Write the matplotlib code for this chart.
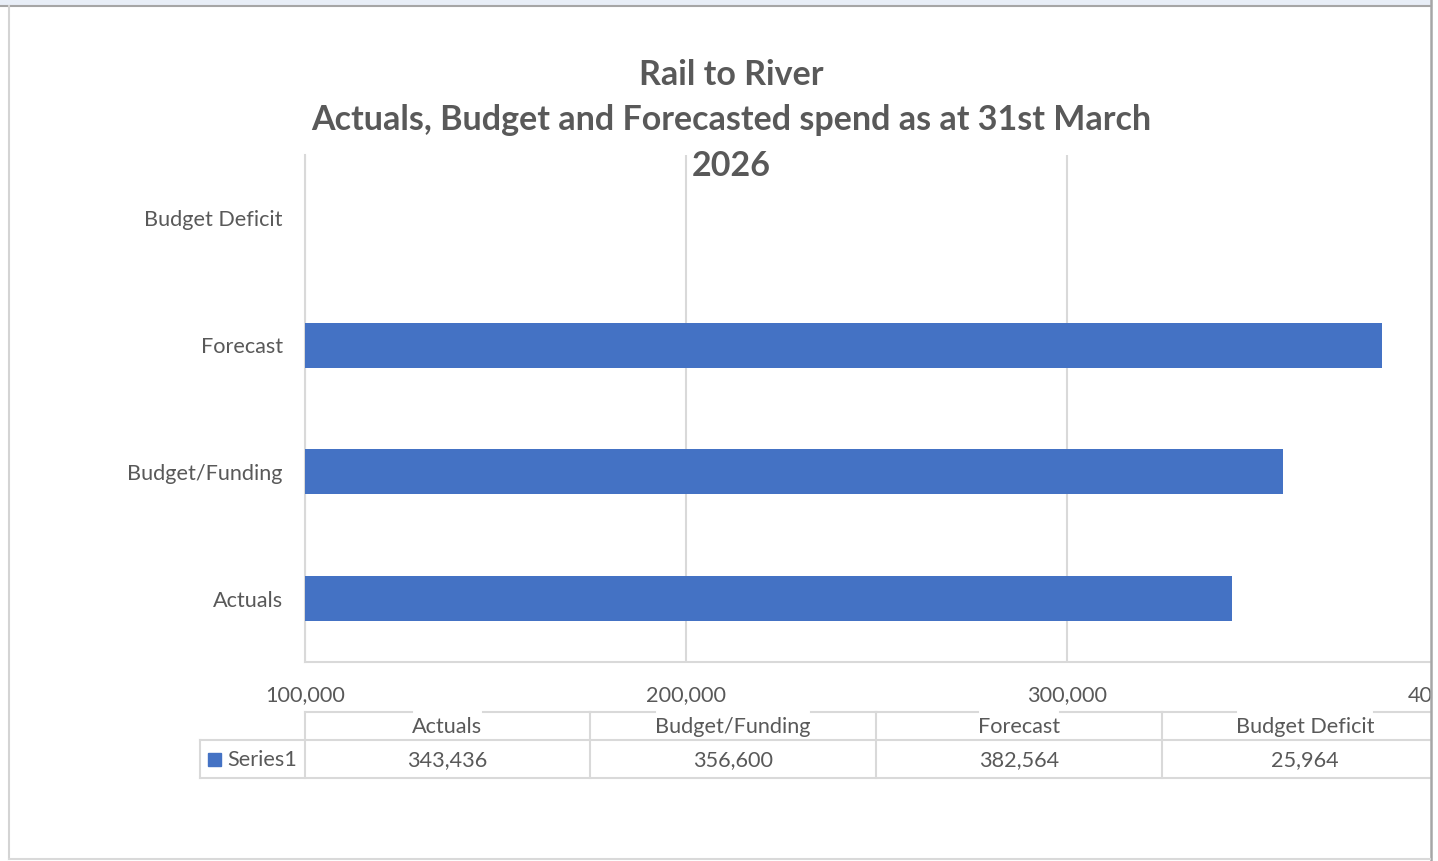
# Rail to River - barras horizontais com tabela de dados (estilo Excel)
import matplotlib
matplotlib.use("Agg")
import matplotlib.pyplot as plt

# ============================================
# Dados
# ============================================
categorias = ["Actuals", "Budget/Funding", "Forecast", "Budget Deficit"]
valores = [343436, 356600, 382564, 25964]
nome_serie = "Series1"
ticks_x = [100000, 200000, 300000, 400000]
titulo = ["Rail to River",
          "Actuals, Budget and Forecasted spend as at 31st March",
          "2026"]

# ============================================
# Estilo
# ============================================
W, H = 1438, 861
AZUL = "#4472C4"
CINZA_TXT = "#595959"
CINZA_LINHA = "#d9d9d9"
FONTE = ["Lato", "DejaVu Sans"]
TAM = 15.6
plt.rcParams["font.family"] = FONTE


def fx(x):
    return x / W


def fy(y):
    return 1 - y / H


fig = plt.figure(figsize=(W / 100, H / 100), dpi=100)
fig.patch.set_facecolor("white")

# ============================================
# Eixo principal (área do gráfico)
# ============================================
esq, dir_, topo, base = 305, 1448, 155, 662
ax = fig.add_axes([fx(esq), fy(base), fx(dir_ - esq), (base - topo) / H])
ax.barh(categorias, valores, height=0.355, color=AZUL, zorder=3)
ax.set_xlim(ticks_x[0], ticks_x[-1])
ax.set_ylim(-0.5, len(categorias) - 0.5)
ax.set_xticks(ticks_x)
ax.set_xticklabels([f"{v:,}" for v in ticks_x])
ax.grid(axis="x", color=CINZA_LINHA, linewidth=1.5, zorder=0)
ax.tick_params(axis="x", length=0, pad=16.5, labelsize=TAM, labelcolor=CINZA_TXT)
ax.tick_params(axis="y", length=0, pad=16, labelsize=TAM, labelcolor=CINZA_TXT)
for lado in ["top", "right"]:
    ax.spines[lado].set_visible(False)
for lado in ["left", "bottom"]:
    ax.spines[lado].set_color(CINZA_LINHA)
    ax.spines[lado].set_linewidth(1.5)

# ============================================
# Título
# ============================================
for texto, y in zip(titulo, [75, 120, 166]):
    fig.text(fx(731), fy(y), texto, ha="center", va="center", fontsize=24.5,
             fontweight="bold", color=CINZA_TXT, zorder=5)

# ============================================
# Sobreposição em pixels (tabela e moldura)
# ============================================
ov = fig.add_axes([0, 0, 1, 1], zorder=10)
ov.set_xlim(0, W)
ov.set_ylim(H, 0)
ov.axis("off")
ov.patch.set_visible(False)

col_x = [305, 590, 876, 1162, 1448]
y_cab, y_meio, y_fim = 712, 740, 778

cabecalhos = []
for i, cat in enumerate(categorias):
    cx = (col_x[i] + col_x[i + 1]) / 2
    t = ov.text(cx, 727, cat, ha="center", va="center", fontsize=TAM, color=CINZA_TXT)
    cabecalhos.append(t)
    ov.text(cx, 760, f"{valores[i]:,}", ha="center", va="center", fontsize=TAM,
            color=CINZA_TXT)

# chave da legenda
ov.add_patch(plt.Rectangle((208, 753), 13, 13, color=AZUL))
ov.text(227, 760, nome_serie, ha="left", va="center", fontsize=TAM, color=CINZA_TXT)

# linhas da tabela
kw = dict(color=CINZA_LINHA, linewidth=1.5)
ov.plot([200, W], [y_meio, y_meio], **kw)
ov.plot([200, W], [y_fim, y_fim], **kw)
ov.plot([200, 200], [y_meio, y_fim], **kw)
for x in col_x[:-1]:
    ov.plot([x, x], [y_cab, y_fim], **kw)

# linha superior do cabeçalho, interrompida no texto
fig.canvas.draw()
ren = fig.canvas.get_renderer()
for i, t in enumerate(cabecalhos):
    bb = t.get_window_extent(ren)
    ov.plot([col_x[i], bb.x0], [y_cab, y_cab], **kw)
    ov.plot([bb.x1, col_x[i + 1]], [y_cab, y_cab], **kw)

# moldura da janela
ov.add_patch(plt.Rectangle((1431, 0), W - 1431, H, color="white", zorder=20))
ov.add_patch(plt.Rectangle((0, 0), 1431, 5, color="#e8eef7", zorder=21))
ov.plot([0, 1431], [5.5, 5.5], color="#a6a6a6", linewidth=1.5, zorder=22)
ov.plot([1430.5, 1430.5], [0, H], color="#a6a6a6", linewidth=1.8, zorder=22)
ov.plot([8.5, 8.5], [6, 859], color="#d4d4d4", linewidth=1.5, zorder=22)
ov.plot([8.5, 1430], [859, 859], color="#d9d9d9", linewidth=1.5, zorder=22)

fig.savefig("out.png", dpi=100)
